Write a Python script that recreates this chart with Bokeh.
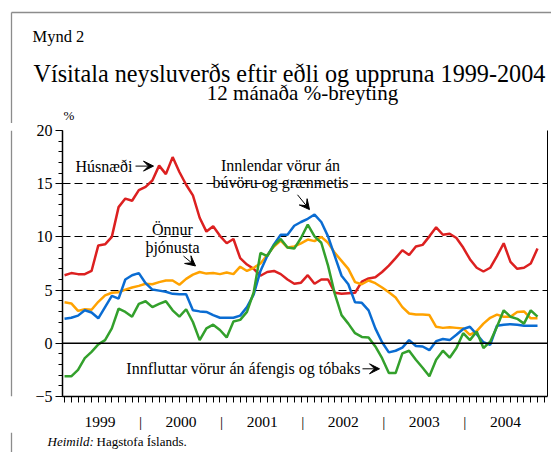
from bokeh.plotting import figure
from bokeh.models import (Range1d, FixedTicker, SingleIntervalTicker, LinearAxis,
                          Label, Arrow, VeeHead, Span)
from bokeh.layouts import column, row
from bokeh.core.properties import value
from bokeh.embed import file_html
from bokeh.resources import INLINE

# ---- data: 12-month % change, Jan 1999 - Nov 2004 (monthly) ----
husnaedi = [6.4, 6.6, 6.5, 6.5, 6.8, 9.2, 9.3, 10.0, 12.8, 13.6, 13.4, 14.4,
            14.7, 15.3, 16.7, 15.9, 17.5, 16.1, 14.9, 13.9, 11.8, 10.5, 11.0, 10.1,
            9.4, 9.8, 8.0, 7.4, 7.0, 6.35, 6.7, 6.8, 6.5, 6.0, 5.6, 5.7,
            6.4, 5.6, 6.0, 6.0, 4.75, 4.65, 4.7, 4.75, 5.8, 6.1, 6.2, 6.7,
            7.3, 8.0, 8.75, 8.3, 9.1, 9.25, 10.05, 10.9, 10.2, 10.3, 9.9, 9.0,
            7.9, 7.1, 6.75, 7.1, 8.2, 9.4, 7.65, 7.0, 7.1, 7.5, 8.9]
onnur_thjonusta = [3.85, 3.75, 3.05, 3.2, 3.15, 3.9, 4.5, 4.75, 4.8, 5.05, 5.25, 5.4,
                   5.6, 5.55, 5.75, 5.9, 5.9, 5.5, 6.05, 6.45, 6.7, 6.55, 6.6, 6.5,
                   6.65, 6.5, 7.2, 6.8, 7.1, 7.5, 8.3, 9.1, 9.65, 9.0, 9.1, 9.4,
                   9.75, 9.6, 10.0, 9.45, 8.5, 7.75, 7.0, 5.75, 5.55, 5.9, 5.65, 5.25,
                   4.8, 4.3, 3.4, 2.8, 2.7, 2.7, 2.65, 1.55, 1.45, 1.5, 1.45, 1.4,
                   0.8, 1.15, 1.85, 2.4, 2.7, 2.5, 2.5, 2.95, 3.0, 2.35, 2.35]
innlendar = [2.3, 2.4, 2.6, 3.1, 2.9, 2.35, 3.4, 4.45, 4.2, 6.0, 6.4, 6.6,
             5.65, 5.05, 4.95, 4.85, 4.65, 4.6, 4.6, 3.1, 3.0, 2.95, 2.65, 2.4,
             2.4, 2.4, 2.6, 3.4, 4.6, 6.8, 8.2, 9.3, 10.2, 10.2, 11.05, 11.4,
             11.7, 12.1, 11.4, 10.05, 8.2, 6.35, 5.55, 3.85, 3.8, 3.1, 1.4, 0.1,
             -0.85, -0.7, -0.4, 0.3, -0.25, -0.3, -0.65, 0.2, 0.4, 0.3, 0.8, 1.35,
             1.55, 0.85, 0.1, -0.15, 1.65, 1.75, 1.8, 1.75, 1.65, 1.65, 1.65]
innfluttar = [-3.1, -3.1, -2.5, -1.4, -0.8, -0.1, 0.3, 1.4, 3.25, 2.95, 2.5, 3.7,
              3.95, 3.4, 3.7, 3.95, 3.1, 2.5, 3.2, 2.0, 0.3, 1.4, 1.75, 1.25,
              0.55, 2.05, 2.2, 2.95, 4.8, 8.5, 8.2, 9.2, 9.8, 9.0, 8.9, 9.9,
              11.15, 10.05, 9.45, 7.3, 4.65, 2.65, 1.85, 0.95, 0.6, 0.55, -0.3, -1.4,
              -2.8, -2.8, -0.95, -0.7, -1.55, -2.3, -3.1, -1.55, -0.7, -1.35, -0.45, 0.95,
              0.3, 1.1, -0.45, 0.15, 1.55, 3.1, 2.5, 2.3, 1.85, 3.1, 2.5]
years = ["1999", "2000", "2001", "2002", "2003", "2004"]
month_index = list(range(len(husnaedi)))

SERIF = "Liberation Serif"
GREY = "#8c8c8c"

# ---- layout (page pixels) ----
W, H = 551, 452
TOP_H, BOT_H, STRIP_W = 123, 20, 20
MAIN_H = H - TOP_H - BOT_H
XR = (-0.3, 71.48)
YR = (-5, 20)
FL, FT, FW, FH = 62.0, 130.0, 485.0, 269.0


def px_x(px):
    return XR[0] + (px - FL) / FW * (XR[1] - XR[0])


def px_y(py):
    return YR[1] - (py - FT) / FH * (YR[1] - YR[0])


def blank_fig(w, h):
    f = figure(width=w, height=h, output_backend="svg", toolbar_location=None,
               title=None, x_range=Range1d(0, w), y_range=Range1d(h, 0),
               x_axis_location=None, y_axis_location=None, min_border=0,
               outline_line_color=None, background_fill_color="white",
               border_fill_color="white")
    f.grid.visible = False
    return f


def txt(f, x, y, s, size, align="left", style="normal"):
    f.text(x=[x], y=[y], text=[s], text_font=value(SERIF), text_font_size=value(size),
           text_align=align, text_baseline="middle", text_color="black",
           text_font_style=style)


# ---- top strip: headings ----
top = blank_fig(W, TOP_H)
top.line([11, W], [12, 12], line_color=GREY, line_width=1.3)
top.line([11, 11], [12, TOP_H], line_color=GREY, line_width=1.3)
txt(top, 32, 35.5, "Mynd 2", "16.5px")
txt(top, 33, 73, "Vísitala neysluverðs eftir eðli og uppruna 1999-2004", "24.2px")
txt(top, 302, 92.5, "12 mánaða %-breyting", "21px", align="center")
txt(top, 63, 115, "%", "13px")

# ---- left strip (frame line) ----
strip = blank_fig(STRIP_W, MAIN_H)
strip.line([11, 11], [0, MAIN_H], line_color=GREY, line_width=1.3)

# ---- bottom strip: source ----
bot = blank_fig(W, BOT_H)
bot.line([11, 11], [0, BOT_H], line_color=GREY, line_width=1.3)
txt(bot, 47, 441 - (TOP_H + MAIN_H), "Heimild:", "13px", style="italic")
txt(bot, 96, 441 - (TOP_H + MAIN_H), "Hagstofa Íslands.", "13px")

# ---- main chart ----
p = figure(width=W - STRIP_W, height=MAIN_H, output_backend="svg", toolbar_location=None,
           title=None, x_range=Range1d(*XR), y_range=Range1d(*YR),
           min_border_left=int(FL - STRIP_W), min_border_right=int(W - (FL + FW)),
           min_border_top=int(FT - TOP_H), min_border_bottom=int(TOP_H + MAIN_H - (FT + FH)),
           outline_line_color=None, background_fill_color="white",
           border_fill_color="white")

year_pos = [5.25 + 12 * k for k in range(6)]
sep_pos = [11.25 + 12 * k for k in range(5)]
overrides = {yp: y for yp, y in zip(year_pos, years)}
overrides.update({sp: "|" for sp in sep_pos})
p.xaxis.ticker = FixedTicker(ticks=year_pos + sep_pos, minor_ticks=list(range(72)))
p.xaxis.major_label_overrides = overrides
p.xaxis.major_tick_line_color = None
p.xaxis.major_tick_out = 0
p.xaxis.major_tick_in = 0
p.xaxis.minor_tick_out = 6
p.xaxis.minor_tick_in = 0
p.xaxis.minor_tick_line_color = "black"
p.xaxis.axis_line_color = "black"
p.xaxis.axis_line_width = 1.5
p.xaxis.major_label_standoff = 10
p.xaxis.major_label_text_font = SERIF
p.xaxis.major_label_text_font_size = "15.5px"
p.xaxis.major_label_text_color = "black"

p.yaxis.ticker = SingleIntervalTicker(interval=5, num_minor_ticks=5)
p.yaxis.major_tick_out = 7
p.yaxis.major_tick_in = 0
p.yaxis.minor_tick_out = 4
p.yaxis.minor_tick_in = 0
p.yaxis.major_tick_line_color = "black"
p.yaxis.minor_tick_line_color = "black"
p.yaxis.axis_line_color = "black"
p.yaxis.axis_line_width = 1.5
p.yaxis.major_label_standoff = 3
p.yaxis.major_label_text_font = SERIF
p.yaxis.major_label_text_font_size = "16px"
p.yaxis.major_label_text_color = "black"

right_axis = LinearAxis(ticker=FixedTicker(ticks=[]), major_tick_line_color=None,
                        minor_tick_line_color=None, major_label_standoff=0,
                        major_tick_out=0, minor_tick_out=0,
                        axis_line_color="black", axis_line_width=1)
p.add_layout(right_axis, "right")

p.xgrid.visible = False
p.ygrid.ticker = FixedTicker(ticks=[5, 10, 15, 20])
p.ygrid.grid_line_color = "black"
p.ygrid.grid_line_dash = "8 4"
p.ygrid.grid_line_width = 1

p.add_layout(Span(location=0, dimension="width", line_color="black", line_width=1.5))

p.line(month_index, husnaedi, line_color="#DC2020", line_width=2.5)
p.line(month_index, onnur_thjonusta, line_color="#FFA200", line_width=2.5)
p.line(month_index, innlendar, line_color="#0A6CD2", line_width=2.5)
p.line(month_index, innfluttar, line_color="#33A02C", line_width=2.5)


def label(px, py, text, align="left"):
    p.add_layout(Label(x=px_x(px), y=px_y(py), text=text, text_font=SERIF,
                       text_font_size="16px", text_align=align, text_baseline="middle",
                       text_color="black"))


def arrow(x0, y0, x1, y1):
    p.add_layout(Arrow(end=VeeHead(size=10, fill_color="black", line_color="black"),
                       x_start=px_x(x0), y_start=px_y(y0), x_end=px_x(x1), y_end=px_y(y1),
                       line_color="black", line_width=1))


label(75, 166, "Húsnæði")
arrow(135, 166, 153, 166)
label(280, 165, "Innlendar vörur án", align="center")
label(280, 183, "búvöru og grænmetis", align="center")
arrow(297, 195, 309, 210)
label(172, 230, "Önnur", align="center")
label(172, 248, "þjónusta", align="center")
arrow(183, 257, 195, 267)
label(360, 371, "Innfluttar vörur án áfengis og tóbaks", align="right")
arrow(362, 371, 379, 371)

layout = column(top, row(strip, p), bot)
open("out.html", "w").write(file_html(layout, INLINE))
